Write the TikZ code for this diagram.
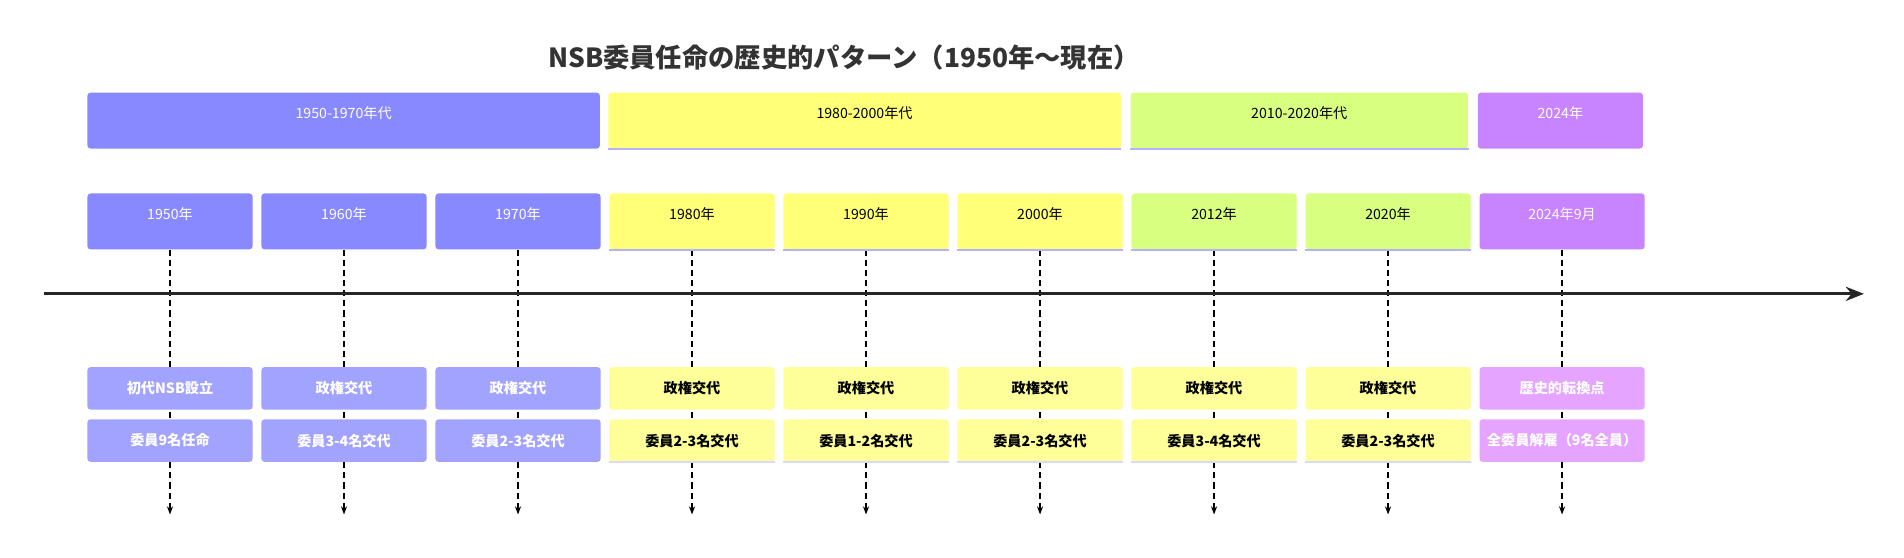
\documentclass[tikz,border=0pt]{standalone}
\usepackage{fontspec}
\setmainfont{Noto Sans CJK JP}
\usetikzlibrary{arrows.meta,positioning}
\definecolor{perA}{HTML}{8888FF}
\definecolor{perB}{HTML}{FFFF78}
\definecolor{perC}{HTML}{D9FF80}
\definecolor{perD}{HTML}{C884FF}
\definecolor{evA}{HTML}{A2A2FF}
\definecolor{evB}{HTML}{FFFF99}
\definecolor{evD}{HTML}{E4A4FF}
\tikzset{
  box/.style={rounded corners=1.5pt,minimum height=27.6pt,anchor=north,inner sep=0pt,font=\fontsize{7}{8}\selectfont},
  ev/.style={rounded corners=1.5pt,minimum height=21pt,minimum width=81.6pt,anchor=north,inner sep=0pt,font=\fontsize{7}{8}\selectfont},
  stem/.style={densely dashed,line width=0.8pt,-{Stealth[length=4pt]}}
}
\begin{document}
\begin{tikzpicture}[x=0.6pt,y=-0.6pt]
    \useasboundingbox (0,0) rectangle (1568,459);
    \node[font=\fontsize{13}{15}\selectfont\bfseries,text=black!80] (title) at (695,47) {NSB委員任命の歴史的パターン（1950年～現在）};

    % periods
    \node[box,fill=perA,text=white,minimum width=253.2pt] (perA) at (283,76) {\raisebox{8pt}{1950-1970年代}};
    \node[box,fill=perB,minimum width=253.2pt] (perB) at (712,76) {\raisebox{8pt}{1980-2000年代}};
    \node[box,fill=perC,minimum width=166.8pt] (perC) at (1070,76) {\raisebox{8pt}{2010-2020年代}};
    \node[box,fill=perD,text=white,minimum width=81.6pt] (perD) at (1285,76) {\raisebox{8pt}{2024年}};
    \foreach \p in {perB,perC} \draw[blue!30,line width=1pt] (\p.south west) -- (\p.south east);

    % years and events
    \foreach \i/\yr/\fa/\tx/\fb/\ea/\eb in {
        0/1950年/perA/white/evA/初代NSB設立/委員9名任命,
        1/1960年/perA/white/evA/政権交代/委員3-4名交代,
        2/1970年/perA/white/evA/政権交代/委員2-3名交代,
        3/1980年/perB/black/evB/政権交代/委員2-3名交代,
        4/1990年/perB/black/evB/政権交代/委員1-2名交代,
        5/2000年/perB/black/evB/政権交代/委員2-3名交代,
        6/2012年/perC/black/evB/政権交代/委員3-4名交代,
        7/2020年/perC/black/evB/政権交代/委員2-3名交代,
        8/2024年9月/perD/white/evD/歴史的転換点/全委員解雇（9名全員）}{
      \pgfmathsetmacro{\cx}{140+143.3*\i}
      \node[box,fill=\fa,text=\tx,minimum width=81.6pt] (yr\i) at (\cx,159) {\raisebox{8pt}{\yr}};
      \draw[stem] (yr\i.south) -- ++(0,218);
      \node[ev,fill=\fb,text=\tx,font=\fontsize{7}{8}\selectfont\bfseries] (ea\i) at (\cx,302) {\ea};
      \node[ev,fill=\fb,text=\tx,font=\fontsize{7}{8}\selectfont\bfseries] (eb\i) at (\cx,345) {\eb};
    }
    \foreach \i in {3,...,7} {
      \draw[blue!30,line width=1pt] (yr\i.south west) -- (yr\i.south east);
      \draw[blue!15,line width=1pt] (eb\i.south west) -- (eb\i.south east);
    }

    % timeline
    \coordinate (tl0) at (36,242);
    \coordinate (tl1) at (1535,242);
    \draw[line width=1.6pt,black!85,-{Stealth[length=9pt,width=7pt]}] (tl0) -- (tl1);
\end{tikzpicture}
\end{document}
